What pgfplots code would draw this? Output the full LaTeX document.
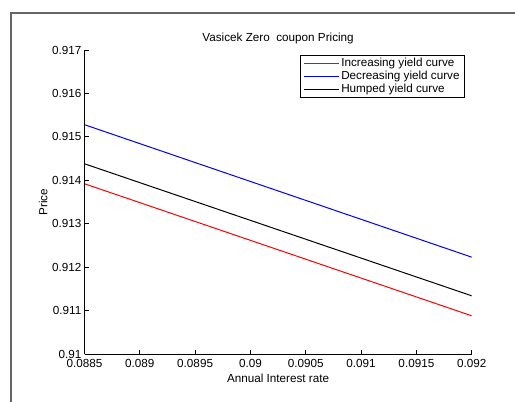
\documentclass[border=0pt]{standalone}
\usepackage{pgfplots}
\pgfplotsset{compat=1.18}
\usepackage{fontspec}
\setmainfont{Liberation Sans}
\begin{document}
\begin{tikzpicture}[font=\fontsize{11.7bp}{14bp}\selectfont]
\useasboundingbox (0,0) rectangle (515bp,402bp);
\draw[color=black!60, line width=1.5bp] (11bp,0bp) -- (11bp,389bp) -- (515bp,389bp);
\begin{axis}[
  at={(84.5bp,48bp)}, anchor=south west,
  scale only axis, width=387.2bp, height=304bp,
  xmin=0.0885, xmax=0.092, ymin=0.91, ymax=0.917,
  axis x line=bottom, axis y line=left,
  axis line style={-, line width=0.8bp},
  tick align=inside, major tick length=4bp,
  tick style={line width=0.8bp, black},
  scaled x ticks=false, scaled y ticks=false,
  xtick={0.0885,0.089,0.0895,0.09,0.0905,0.091,0.0915,0.092},
  xticklabels={0.0885,0.089,0.0895,0.09,0.0905,0.091,0.0915,0.092},
  ytick={0.91,0.911,0.912,0.913,0.914,0.915,0.916,0.917},
  yticklabels={0.91,0.911,0.912,0.913,0.914,0.915,0.916,0.917},
  xticklabel style={anchor=north, inner sep=1.5bp, yshift=-4bp},
  yticklabel style={anchor=east, inner sep=3bp},
  xlabel={Annual Interest rate},
  ylabel={Price},
  xlabel style={yshift=-1bp},
  ylabel style={yshift=-2bp},
  title={Vasicek Zero\ \ coupon Pricing},
  title style={yshift=-3bp},
  /pgf/number format/assume math mode=true,
  legend style={at={(rel axis cs:0.9827,0.9836)}, anchor=north east,
    draw=black, line width=0.8bp, inner xsep=3bp, inner ysep=1bp, row sep=-1bp,
    font=\fontsize{11.7bp}{14bp}\selectfont},
  legend cell align=left,
  legend image post style={xscale=2.06, line width=1.2bp},
]
\addplot[red, line width=1bp, mark=none] coordinates {(0.0885,0.91392) (0.092,0.91088)};
\addlegendentry{Increasing yield curve}
\addplot[blue, line width=1bp, mark=none] coordinates {(0.0885,0.91528) (0.092,0.91223)};
\addlegendentry{Decreasing yield curve}
\addplot[black, line width=1bp, mark=none] coordinates {(0.0885,0.91438) (0.092,0.91134)};
\addlegendentry{Humped yield curve}
\end{axis}
\end{tikzpicture}
\end{document}
